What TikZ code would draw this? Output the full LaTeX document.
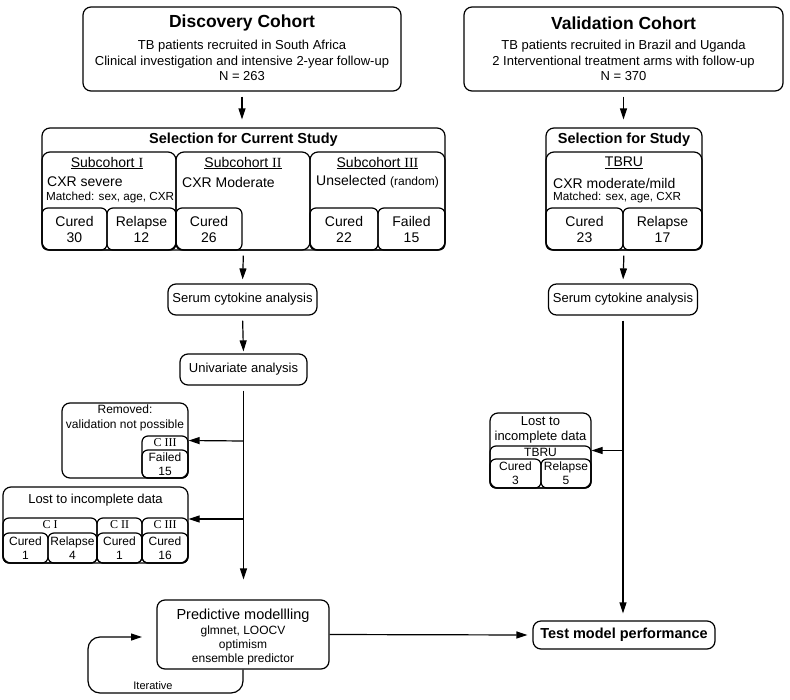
\documentclass[tikz,border=0pt]{standalone}
\usepackage{fontspec}
\setmainfont{Liberation Sans}
\newfontfamily\romnum{Liberation Serif}
\usetikzlibrary{fit,arrows.meta,positioning}
\newcommand{\sz}[2]{\fontsize{#1}{#2}\selectfont}
\newcommand{\subc}[1]{\underline{Subcohort {\romnum #1}}}
% rounded count box with its text in the middle
\newcommand{\cbox}[6][\sz{14}{16}]{%
  \node[sbox, fit={(#3) (#4)}] (#2) {};
  \node[txt, font=#1] (#2-t) at (#2.center) {#5\\#6};}
\tikzset{
  rbox/.style={draw, line width=1.2pt, rounded corners=8pt, inner sep=0pt, align=center},
  sbox/.style={draw, line width=1.2pt, rounded corners=6pt, inner sep=0pt, align=center},
  txt/.style={inner sep=0pt, align=center},
  arr/.style={line width=1.2pt, -{Triangle[length=11pt,width=7pt]}, shorten <=5pt, shorten >=5pt},
}

\begin{document}
\begin{tikzpicture}[x=1pt,y=-1pt]
  \useasboundingbox (0,0) rectangle (790,699);

  % cohorts
  \node[rbox, fit={(83,7) (401,91)}] (disc) {};
  \node[txt, font=\sz{17.5}{20}\bfseries] (disc-t) at (242,23) {Discovery Cohort};
  \node[txt, font=\sz{13}{15.5}] (disc-b) at (242,60.5) {TB patients recruited in South Africa\\
    Clinical investigation and intensive 2-year follow-up\\ N = 263};

  \node[rbox, fit={(464,7) (783,91)}] (val) {};
  \node[txt, font=\sz{17.5}{20}\bfseries] (val-t) at (623.5,23) {Validation Cohort};
  \node[txt, font=\sz{13}{15.5}] (val-b) at (623.5,60.5) {TB patients recruited in Brazil and Uganda\\
    2 Interventional treatment arms with follow-up\\ N = 370};

  % selection discovery
  \node[rbox, fit={(42,128) (445,250)}] (sel) {};
  \node[txt, font=\sz{14.5}{17}\bfseries] (sel-t) at (243.5,140) {Selection for Current Study};
  \node[rbox, fit={(42,152) (176,250)}] (subA) {};
  \node[rbox, fit={(176,152) (310,250)}] (subB) {};
  \node[rbox, fit={(310,152) (445,250)}] (subC) {};
  \node[txt, font=\sz{14}{16}] (subA-t) at (107,163) {\subc{I}};
  \node[txt, font=\sz{14}{16}, anchor=west] (subA-x) at (47,182) {CXR severe};
  \node[txt, font=\sz{11.7}{14}, anchor=west] (subA-m) at (46,197) {Matched: sex, age, CXR};
  \node[txt, font=\sz{14}{16}] (subB-t) at (243,163) {\subc{II}};
  \node[txt, font=\sz{14}{16}, anchor=west] (subB-x) at (182,182) {CXR Moderate};
  \node[txt, font=\sz{14}{16}] (subC-t) at (377.5,163) {\subc{III}};
  \node[txt, font=\sz{14}{16}] (subC-x) at (377.5,182) {Unselected {\sz{12}{14}(random)}};
  \cbox{curA}{42,208}{107,250}{Cured}{30}
  \cbox{relA}{107,208}{176,250}{Relapse}{12}
  \cbox{curB}{176,208}{242,250}{Cured}{26}
  \cbox{curC}{310,208}{378,250}{Cured}{22}
  \cbox{failC}{378,208}{445,250}{Failed}{15}

  % selection validation
  \node[rbox, fit={(546,128) (702,250)}] (selR) {};
  \node[txt, font=\sz{14.5}{17}\bfseries] (selR-t) at (624,140) {Selection for Study};
  \node[rbox, fit={(546,152) (702,250)}] (tbru) {};
  \node[txt, font=\sz{14}{16}] (tbru-t) at (624,163) {\underline{TBRU}};
  \node[txt, font=\sz{14}{16}, anchor=west] (tbru-x) at (553,183) {CXR moderate/mild};
  \node[txt, font=\sz{11.7}{14}, anchor=west] (tbru-m) at (553,197) {Matched: sex, age, CXR};
  \cbox{curR}{546,208}{623,250}{Cured}{23}
  \cbox{relR}{623,208}{702,250}{Relapse}{17}

  % analysis
  \node[rbox, minimum width=149pt, minimum height=31pt, font=\sz{13}{15}] (serL) at (242.5,299.5) {Serum cytokine analysis};
  \node[rbox, minimum width=149pt, minimum height=31pt, font=\sz{13}{15}] (serR) at (623,299.5) {Serum cytokine analysis};
  \node[rbox, minimum width=127pt, minimum height=31pt, font=\sz{13}{15}] (uni) at (243.5,369.5) {Univariate analysis};

  % removed / lost
  \node[rbox, fit={(62,403) (188,478)}] (rem) {};
  \node[txt, font=\sz{12}{15}] (rem-t) at (125,418) {Removed:\\validation not possible};
  \node[sbox, fit={(142,436) (188,478)}] (remC) {};
  \node[txt, font=\sz{12}{14}\romnum] (remC-t) at (165,443) {C III};
  \cbox[\sz{12}{14}]{remF}{142,450}{188,478}{Failed}{15}

  \node[rbox, fit={(3,487) (188,563)}] (lost) {};
  \node[txt, font=\sz{13}{15}] (lost-t) at (95.5,500) {Lost to incomplete data};
  \node[sbox, fit={(3,518) (97,563)}] (lostI) {};
  \node[sbox, fit={(97,518) (142,563)}] (lostII) {};
  \node[sbox, fit={(142,518) (188,563)}] (lostIII) {};
  \node[txt, font=\sz{12}{14}\romnum] (lostI-t) at (50,525) {C I};
  \node[txt, font=\sz{12}{14}\romnum] (lostII-t) at (119.5,525) {C II};
  \node[txt, font=\sz{12}{14}\romnum] (lostIII-t) at (165,525) {C III};
  \cbox[\sz{12}{14}]{lc1}{3,533}{48,563}{Cured}{1}
  \cbox[\sz{12}{14}]{lc2}{48,533}{97,563}{Relapse}{4}
  \cbox[\sz{12}{14}]{lc3}{97,533}{142,563}{Cured}{1}
  \cbox[\sz{12}{14}]{lc4}{142,533}{188,563}{Cured}{16}

  \node[rbox, fit={(490,413) (591,488)}] (lostR) {};
  \node[txt, font=\sz{13}{15}] (lostR-t) at (540.5,430) {Lost to\\incomplete data};
  \node[sbox, fit={(490,446) (591,488)}] (lostR-g) {};
  \node[txt, font=\sz{12}{14}] (lostR-g-t) at (540.5,452) {TBRU};
  \cbox[\sz{12}{14}]{lr1}{490,459}{541,488}{Cured}{3}
  \cbox[\sz{12}{14}]{lr2}{541,459}{591,488}{Relapse}{5}

  % modelling
  \node[rbox, fit={(157,600) (329,669)}] (pred) {};
  \node[txt, font=\sz{14.5}{17}] (pred-t) at (243,616) {Predictive modellling};
  \node[txt, font=\sz{12}{14}] (pred-b) at (243,645) {glmnet, LOOCV\\optimism\\ensemble predictor};
  \node[rbox, minimum width=182pt, minimum height=28pt, font=\sz{14.5}{17}\bfseries] (test) at (624,635) {Test model performance};

  \coordinate (jA) at (243.5,441);
  \coordinate (jB) at (243.5,519);
  \coordinate (loopL) at (88,693);
  \coordinate (loopR) at (157,637);
  \node[txt, font=\sz{11}{13}] (iter) at (153,686) {Iterative};

  \draw[arr, shorten >=8pt] (disc.south) -- (disc.south |- sel.north);
  \draw[arr, shorten >=8pt] (val.south) -- (val.south |- selR.north);
  \draw[arr, shorten >=4pt] (sel.south) -- (serL.north);
  \draw[arr, shorten >=4pt] (selR.south) -- (serR.north);
  \draw[arr, shorten >=2pt] (serL.south) -- (uni.north);
  \draw[arr, shorten >=20pt] (uni.south) -- (uni.south |- pred.north);
  \draw[arr, shorten <=0pt, shorten >=0pt] (jA) -- (rem.east);
  \draw[arr, shorten <=0pt, shorten >=0pt] (jB) -- (jB -| lost.east);
  \draw[arr, shorten >=7pt] (serR.south) -- (serR.south |- test.north);
  \draw[arr, shorten <=0pt, shorten >=0pt] (serR.south |- lostR.east) -- (lostR.east);
  \draw[arr, shorten <=0pt] (pred.east) -- (test.west);
  \draw[arr, rounded corners=12pt, shorten <=0pt, shorten >=15pt] (pred.south) |- (loopL) |- (loopR);
\end{tikzpicture}
\end{document}
